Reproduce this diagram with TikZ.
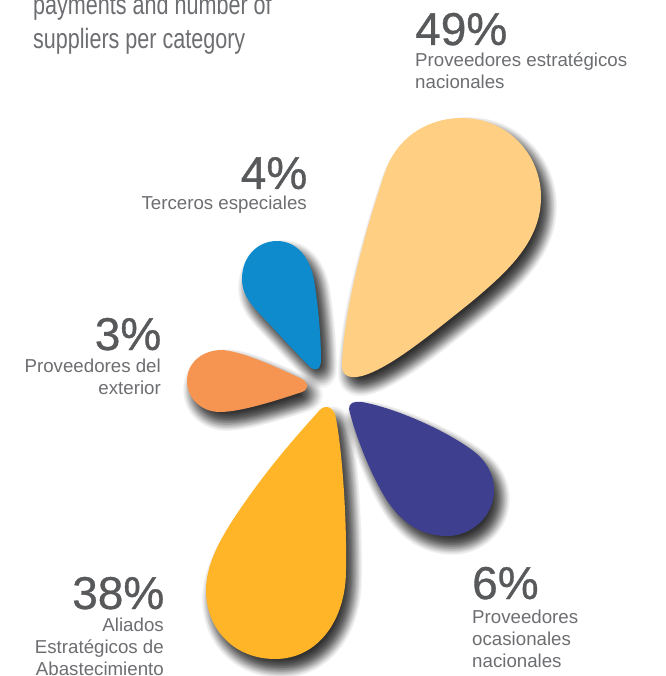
\documentclass[tikz,border=0pt]{standalone}
\usepackage{fontspec}
\setmainfont{Liberation Sans}
\newfontfamily\condfont[FakeStretch=0.77]{Liberation Sans}
\newfontfamily\numfont[FakeBold=0.7]{Liberation Sans}
\definecolor{numgray}{HTML}{58595B}
\definecolor{labgray}{HTML}{6D6E71}
\definecolor{petalA}{HTML}{FFCF83}
\definecolor{petalB}{HTML}{0D8BCD}
\definecolor{petalC}{HTML}{F69552}
\definecolor{petalD}{HTML}{FFB527}
\definecolor{petalE}{HTML}{3E3F8F}
\tikzset{
  numtext/.style={font=\numfont\fontsize{46}{46}\selectfont, text=numgray, inner sep=0pt},
  labtext/.style={font=\fontsize{18.7}{22}\selectfont, text=labgray, inner sep=0pt, align=left},
  labright/.style={labtext, align=right},
  titletext/.style={font=\condfont\fontsize{28}{34}\selectfont, text=labgray, inner sep=0pt, align=left},
}
\newcommand{\petal}[2]{%
  \foreach \r/\n in {0/1,2.5/8,5/14,7.5/20,10/26}{
    \foreach \k in {1,...,\n}{
      \fill[black, opacity=0.02, shift={({6+\r*cos(360*\k/\n)},{9+\r*sin(360*\k/\n)})}] #2;
    }
  }
  \fill[#1] #2;
}
\begin{document}
\begin{tikzpicture}[x=1pt,y=-1pt]
\useasboundingbox (0,0) rectangle (665,676);
\fill[white] (0,0) rectangle (665,676);
\begin{scope}
\clip (0,0) rectangle (665,676);
\petal{petalA}{(342,366) .. controls (343,315) and (362,240) .. (385,172) .. controls (398,135) and (430,118) .. (462,118) .. controls (508,118) and (541,155) .. (541,197) .. controls (541,240) and (510,270) .. (470,303) .. controls (430,335) and (390,368) .. (362,376) .. controls (350,379) and (342,376) .. (342,366) -- cycle}
\petal{petalB}{(242,279) .. controls (242,256) and (258,241) .. (277,241) .. controls (297,241) and (310,258) .. (314,280) .. controls (318,305) and (321,335) .. (321,360) .. controls (321,370) and (315,372) .. (309,366) .. controls (295,352) and (275,330) .. (258,312) .. controls (248,301) and (242,292) .. (242,279) -- cycle}
\petal{petalC}{(187,381) .. controls (187,362) and (203,350) .. (222,350) .. controls (240,351) and (270,364) .. (302,379) .. controls (309,383) and (309,389) .. (302,392) .. controls (275,401) and (240,412) .. (220,412) .. controls (202,412) and (187,399) .. (187,381) -- cycle}
\petal{petalD}{(318,412) .. controls (323,405) and (331,405) .. (335,414) .. controls (341,440) and (347,510) .. (346,570) .. controls (346,620) and (318,659) .. (275,659) .. controls (235,659) and (206,630) .. (206,590) .. controls (206,560) and (225,530) .. (250,495) .. controls (275,460) and (300,432) .. (318,412) -- cycle}
\petal{petalE}{(349,409) .. controls (349,403) and (353,401) .. (362,402) .. controls (395,408) and (445,430) .. (472,450) .. controls (487,461) and (494,475) .. (494,490) .. controls (494,516) and (472,536) .. (447,536) .. controls (420,536) and (402,522) .. (388,502) .. controls (372,478) and (355,435) .. (349,409) -- cycle}
\end{scope}
\node[titletext, anchor=base west] (t1) at (33,15) {payments and number of};
\node[titletext, anchor=base west] (t2) at (33,49) {suppliers per category};
\node[numtext, anchor=base west] (n49) at (415,45) {49\%};
\node[labtext, anchor=north west] (l49) at (415,52.5) {Proveedores estratégicos\\nacionales};
\node[numtext, anchor=base east] (n4) at (307.5,189) {4\%};
\node[labright, anchor=north east] (l4) at (307,196) {Terceros especiales};
\node[numtext, anchor=base east] (n3) at (161.5,350) {3\%};
\node[labright, anchor=north east] (l3) at (161,358.5) {Proveedores del\\exterior};
\node[numtext, anchor=base east] (n38) at (164.5,609) {38\%};
\node[labright, anchor=north east] (l38) at (164,618) {Aliados\\Estratégicos de\\Abastecimiento};
\node[numtext, anchor=base west] (n6) at (472,599) {6\%};
\node[labtext, anchor=north west] (l6) at (472,609.5) {Proveedores\\ocasionales\\nacionales};
\end{tikzpicture}
\end{document}
